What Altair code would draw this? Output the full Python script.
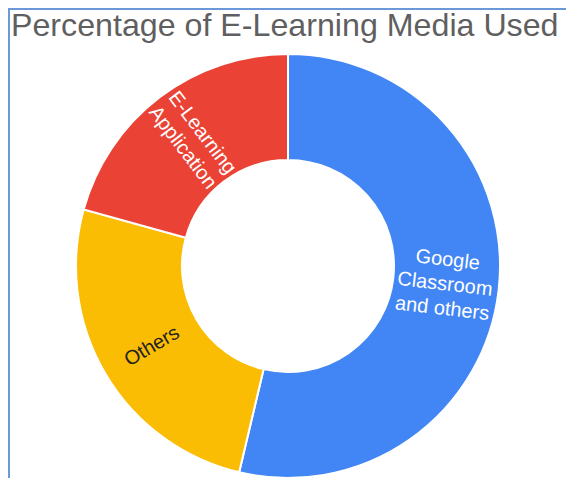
import altair as alt
import pandas as pd
import math

categories = ["Google Classroom and others", "Others", "E-Learning Application"]
values = [53.7, 25.6, 20.7]
labels = ["Google\nClassroom\nand others", "Others", "E-Learning\nApplication"]
colors = ["#4285F4", "#FBBC04", "#EA4335"]

df = pd.DataFrame({"category": categories, "value": values, "label": labels})

W, H_TOTAL, TOP = 558, 470, 40
H = H_TOTAL - TOP
CX, CY = 280, 258 - TOP
FS, LH = 20, 24.5

base = alt.Chart(df).transform_window(
    idx="row_number()"
).transform_joinaggregate(
    total="sum(value)"
).transform_window(
    cum="sum(value)", frame=[None, 0]
).transform_calculate(
    mid="(datum.cum - datum.value/2) / datum.total * 360"
).transform_calculate(
    ang="datum.mid < 180 ? (datum.mid + 270) % 360 : (datum.mid + 90) % 360",
    nlines="length(split(datum.label, '\\n'))",
)

arcs = base.mark_arc(radius=212, radius2=106, stroke="white", strokeWidth=2).encode(
    theta=alt.Theta("value:Q", stack=True),
    color=alt.Color("category:N", scale=alt.Scale(domain=categories, range=colors), legend=None),
    order=alt.Order("idx:Q"),
    x=alt.value(CX),
    y=alt.value(CY),
)

def text_layer(n):
    return base.transform_filter(f"datum.nlines == {n}").mark_text(
        radius=158, lineBreak="\n", font="Liberation Sans", fontSize=FS, lineHeight=LH,
        align="center", baseline="middle", dy=-(n - 1) * LH / 2,
    ).encode(
        theta=alt.Theta("mid:Q", stack=None,
                        scale=alt.Scale(domain=[0, 360], range=[0, 2 * math.pi])),
        text="label:N",
        angle=alt.Angle("ang:Q", scale=None),
        color=alt.condition(alt.datum.category == "Others", alt.value("#222222"), alt.value("white")),
        x=alt.value(CX),
        y=alt.value(CY),
    )

border_left = alt.Chart(df).mark_rule(color="#6a98d8", strokeWidth=2).encode(
    x=alt.value(1), y=alt.value(-TOP), y2=alt.value(H)
)
border_top = alt.Chart(df).mark_rule(color="#6a98d8", strokeWidth=2).encode(
    y=alt.value(-TOP + 1), x=alt.value(0), x2=alt.value(W)
)

chart = alt.layer(
    border_left, border_top, arcs, text_layer(1), text_layer(2), text_layer(3)
).resolve_scale(theta="independent", color="independent").properties(
    width=W,
    height=H,
    padding={"left": 0, "top": TOP, "right": 0, "bottom": 0},
    autosize=alt.AutoSizeParams(type="none"),
    title=alt.TitleParams(
        "Percentage of E-Learning Media Used",
        anchor="start", fontSize=32.2, font="Liberation Sans", fontWeight="normal",
        color="#5f5f5f", dx=4, dy=40, offset=4,
    ),
).configure_view(stroke=None)

chart.save("out.html", embed_options={"renderer": "svg", "actions": False})
